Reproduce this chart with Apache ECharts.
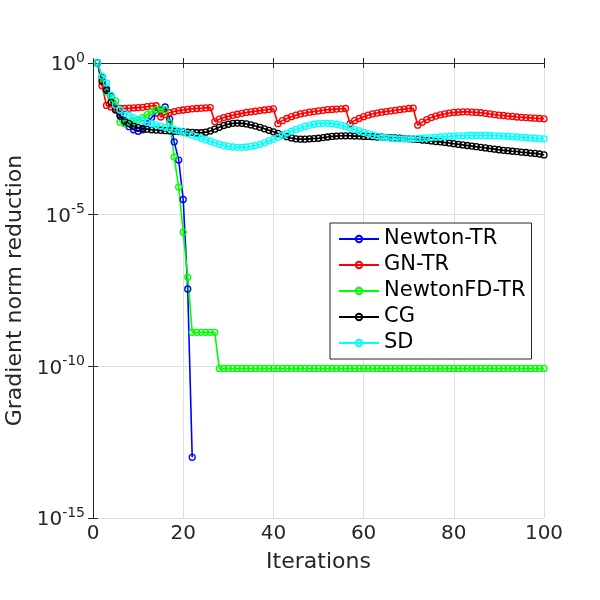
<!DOCTYPE html>
<html>
<head>
<meta charset="utf-8">
<script src="https://cdn.jsdelivr.net/npm/echarts@6/dist/echarts.min.js"></script>
<style>
  html, body { margin: 0; padding: 0; background: #fff; }
  #chart { width: 600px; height: 600px; }
</style>
</head>
<body>
<div id="chart"></div>
<script>
// log10 of gradient norm reduction, one value per iteration (iterations start at 1)
const newtonTR = [0, -0.45, -0.85, -1.1, -1.4, -1.7, -1.95, -2.1, -2.2, -2.25,
  -2.2, -2.0, -1.8, -1.65, -1.55, -1.45, -1.85, -2.6, -3.2, -4.5, -7.45, -13.0];

const gnTR = [0, -0.75, -1.4, -1.45, -1.5, -1.5, -1.5, -1.49, -1.48, -1.47,
  -1.46, -1.44, -1.42, -1.41, -1.78, -1.7, -1.64, -1.6, -1.57, -1.55,
  -1.53, -1.51, -1.5, -1.49, -1.48, -1.47, -1.93, -1.85, -1.8, -1.76,
  -1.72, -1.69, -1.66, -1.63, -1.61, -1.59, -1.57, -1.55, -1.53, -1.51,
  -2.0, -1.9, -1.83, -1.77, -1.72, -1.68, -1.65, -1.62, -1.6, -1.58,
  -1.56, -1.54, -1.53, -1.52, -1.51, -1.5, -2.0, -1.9, -1.83, -1.77,
  -1.72, -1.68, -1.65, -1.62, -1.6, -1.58, -1.56, -1.54, -1.52, -1.5,
  -1.49, -2.05, -1.95, -1.87, -1.8, -1.75, -1.71, -1.68, -1.65, -1.63,
  -1.62, -1.61, -1.61, -1.62, -1.63, -1.64, -1.66, -1.68, -1.7, -1.72,
  -1.73, -1.75, -1.76, -1.78, -1.79, -1.8, -1.81, -1.82, -1.83, -1.84];

const newtonFDTR = [0, -0.5, -0.95, -1.15, -1.25, -1.95, -2.0, -1.97, -1.93, -1.88,
  -1.8, -1.7, -1.6, -1.55, -1.52, -1.55, -1.98, -3.1, -4.09, -5.58,
  -7.06, -8.88, -8.88, -8.88, -8.88, -8.88, -8.88, -10.07, -10.07, -10.07,
  -10.07, -10.07, -10.07, -10.07, -10.07, -10.07, -10.07, -10.07, -10.07, -10.07,
  -10.07, -10.07, -10.07, -10.07, -10.07, -10.07, -10.07, -10.07, -10.07, -10.07,
  -10.07, -10.07, -10.07, -10.07, -10.07, -10.07, -10.07, -10.07, -10.07, -10.07,
  -10.07, -10.07, -10.07, -10.07, -10.07, -10.07, -10.07, -10.07, -10.07, -10.07,
  -10.07, -10.07, -10.07, -10.07, -10.07, -10.07, -10.07, -10.07, -10.07, -10.07,
  -10.07, -10.07, -10.07, -10.07, -10.07, -10.07, -10.07, -10.07, -10.07, -10.07,
  -10.07, -10.07, -10.07, -10.07, -10.07, -10.07, -10.07, -10.07, -10.07, -10.07];

const cg = [0, -0.6, -0.9, -1.3, -1.55, -1.75, -1.9, -2.0, -2.08, -2.13,
  -2.16, -2.18, -2.2, -2.21, -2.22, -2.23, -2.24, -2.25, -2.26, -2.27,
  -2.28, -2.29, -2.3, -2.3, -2.28, -2.24, -2.18, -2.12, -2.06, -2.02,
  -1.99, -1.98, -1.99, -2.01, -2.04, -2.08, -2.12, -2.17, -2.22, -2.27,
  -2.32, -2.38, -2.43, -2.47, -2.5, -2.51, -2.51, -2.5, -2.49, -2.48,
  -2.46, -2.44, -2.42, -2.41, -2.4, -2.4, -2.4, -2.41, -2.41, -2.42,
  -2.42, -2.43, -2.44, -2.44, -2.45, -2.46, -2.47, -2.48, -2.49, -2.5,
  -2.51, -2.52, -2.54, -2.55, -2.57, -2.59, -2.6, -2.62, -2.64, -2.66,
  -2.68, -2.7, -2.72, -2.74, -2.76, -2.78, -2.8, -2.82, -2.84, -2.86,
  -2.88, -2.89, -2.91, -2.92, -2.94, -2.95, -2.97, -2.98, -3.0, -3.03];

const sd = [0, -0.43, -0.66, -1.06, -1.39, -1.55, -1.65, -1.73, -1.8, -1.86,
  -1.91, -1.96, -2.0, -2.04, -2.08, -2.12, -2.16, -2.2, -2.24, -2.28,
  -2.33, -2.38, -2.43, -2.48, -2.53, -2.58, -2.63, -2.68, -2.72, -2.75,
  -2.77, -2.78, -2.78, -2.77, -2.75, -2.72, -2.68, -2.63, -2.57, -2.51,
  -2.45, -2.38, -2.31, -2.25, -2.19, -2.14, -2.09, -2.05, -2.02, -2.0,
  -1.99, -1.99, -2.0, -2.02, -2.05, -2.09, -2.14, -2.19, -2.24, -2.29,
  -2.33, -2.37, -2.41, -2.44, -2.46, -2.48, -2.49, -2.5, -2.5, -2.5,
  -2.5, -2.49, -2.48, -2.47, -2.46, -2.45, -2.44, -2.43, -2.42, -2.41,
  -2.4, -2.4, -2.39, -2.39, -2.39, -2.39, -2.39, -2.39, -2.4, -2.4,
  -2.41, -2.42, -2.43, -2.44, -2.45, -2.46, -2.47, -2.48, -2.49, -2.5];

const seriesNames = ['Newton-TR', 'GN-TR', 'NewtonFD-TR', 'CG', 'SD'];
const seriesColors = ['#0000ff', '#ff0000', '#00ff00', '#000000', '#00ffff'];
const seriesData = [newtonTR, gnTR, newtonFDTR, cg, sd];

const xTicks = { min: 0, max: 100, step: 20 };
const yTicks = { min: -15, max: 0, step: 5 };   // exponents of 10

const FONT = 'DejaVu Sans';
const INK = '#262626';

const chart = echarts.init(document.getElementById('chart'));

const axisCommon = {
  axisLine: { show: true, lineStyle: { color: INK, width: 1 } },
  axisTick: { show: true, inside: true, length: 5, lineStyle: { color: INK } }
};

chart.setOption({
  animation: false,
  backgroundColor: '#fff',
  textStyle: { fontFamily: FONT },
  grid: { left: 93, right: 56, top: 63, bottom: 82, containLabel: false, outerBoundsMode: 'none' },
  legend: {
    orient: 'vertical',
    left: 330, top: 223,
    data: seriesNames,
    itemWidth: 40, itemHeight: 8, itemGap: 4,
    padding: [5, 6, 5, 8],
    borderColor: INK, borderWidth: 1,
    backgroundColor: '#fff',
    textStyle: { fontFamily: FONT, fontSize: 21, lineHeight: 22, color: '#000' }
  },
  xAxis: [
    Object.assign({}, axisCommon, {
      type: 'value', min: xTicks.min, max: xTicks.max, interval: xTicks.step,
      name: 'Iterations', nameLocation: 'middle', nameGap: 33,
      nameTextStyle: { fontFamily: FONT, fontSize: 22, color: INK },
      axisLabel: { fontFamily: FONT, fontSize: 20, color: INK, margin: 6 },
      splitLine: { show: true, lineStyle: { color: '#dfdfdf', width: 1 } }
    }),
    Object.assign({}, axisCommon, {
      type: 'value', position: 'top', min: xTicks.min, max: xTicks.max, interval: xTicks.step,
      axisLabel: { show: false }, splitLine: { show: false }
    })
  ],
  yAxis: [
    Object.assign({}, axisCommon, {
      type: 'value', min: yTicks.min, max: yTicks.max, interval: yTicks.step,
      name: 'Gradient norm reduction', nameLocation: 'middle', nameGap: 67, nameRotate: 90,
      nameTextStyle: { fontFamily: FONT, fontSize: 22, color: INK },
      axisLabel: {
        margin: 8,
        formatter: v => '{b|10}{s|' + v + '}',
        rich: {
          b: { fontFamily: FONT, fontSize: 20, color: INK, verticalAlign: 'bottom' },
          s: { fontFamily: FONT, fontSize: 14, color: INK, verticalAlign: 'bottom', padding: [0, 0, 10, 0] }
        }
      },
      splitLine: { show: true, lineStyle: { color: '#dfdfdf', width: 1 } }
    }),
    Object.assign({}, axisCommon, {
      type: 'value', position: 'right', min: yTicks.min, max: yTicks.max, interval: yTicks.step,
      axisLabel: { show: false }, splitLine: { show: false }
    })
  ],
  series: seriesNames.map((name, k) => ({
    name: name,
    type: 'line',
    data: seriesData[k].map((v, i) => [i + 1, v]),
    xAxisIndex: 0, yAxisIndex: 0,
    symbol: 'circle', symbolSize: 6, showSymbol: true,
    lineStyle: { color: seriesColors[k], width: 1.6 },
    itemStyle: { color: 'rgba(255,255,255,0)', borderColor: seriesColors[k], borderWidth: 1.3 }
  }))
});
</script>
</body>
</html>
